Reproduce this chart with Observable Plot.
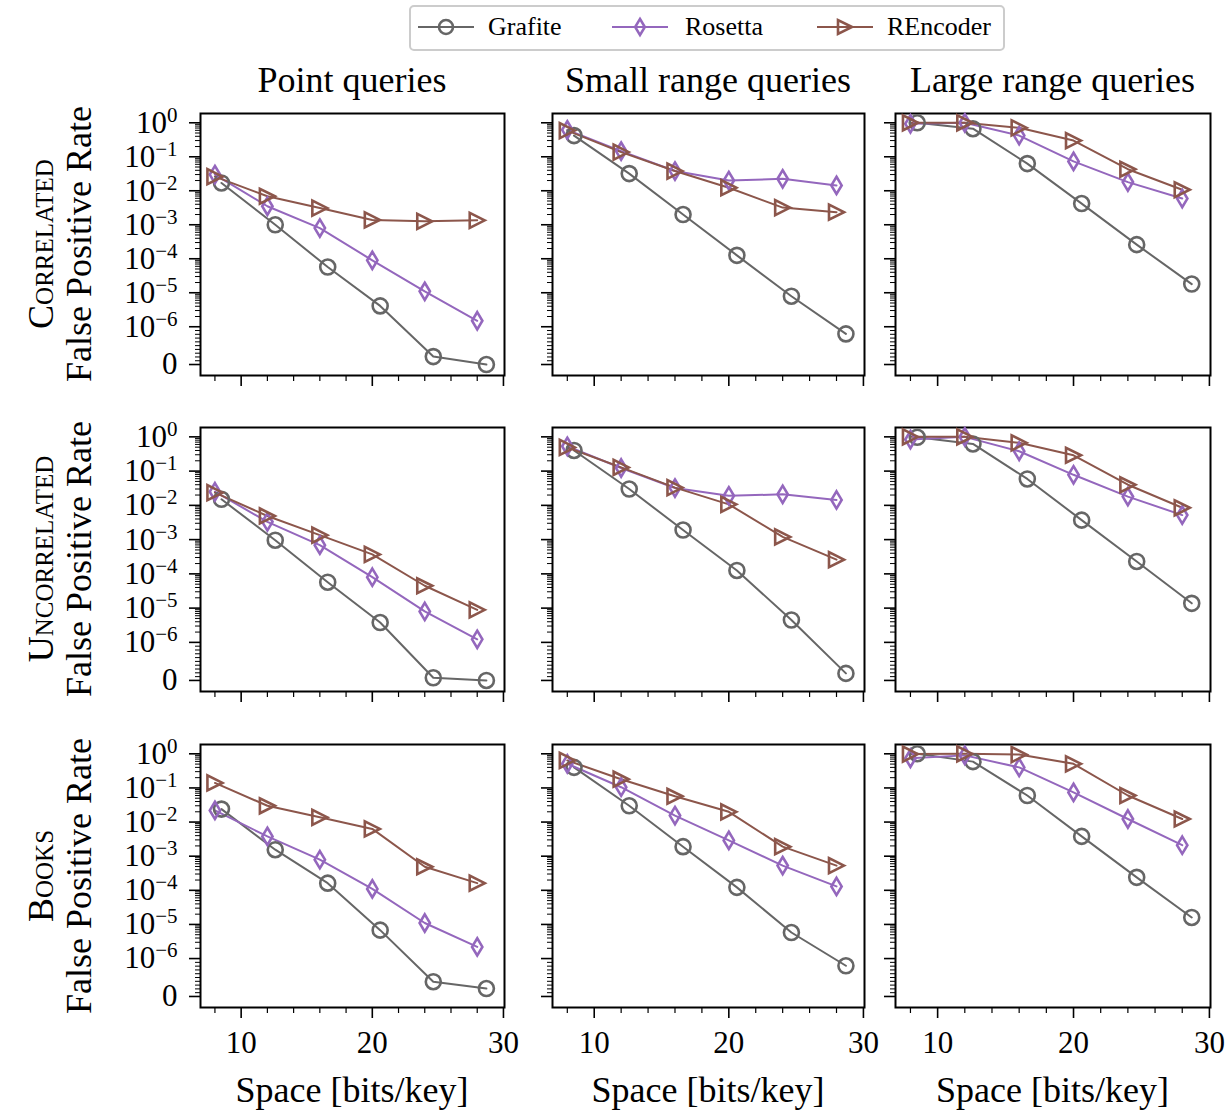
<!DOCTYPE html>
<html><head><meta charset="utf-8">
<script src="https://cdn.jsdelivr.net/npm/d3@7"></script>
<script src="https://cdn.jsdelivr.net/npm/@observablehq/plot@0.6"></script>
<style>
body{margin:0;background:#fff;}
#root{position:relative;width:1226px;height:1112px;background:#fff;font-family:"Liberation Serif",serif;color:#000;overflow:hidden;}
.abs{position:absolute;white-space:nowrap;line-height:1;}
svg{overflow:visible;}
</style></head><body><div id="root"></div>
<script>
// ---------------- data ----------------
const datasets = ["Correlated", "Uncorrelated", "Books"];
const queryTypes = ["Point queries", "Small range queries", "Large range queries"];
const methods = ["Grafite", "Rosetta", "REncoder"];
const methodColors = ["#666666", "#9467bd", "#8c564b"];

// space [bits/key] of each configuration
const grafiteSpace = [8.5, 12.6, 16.6, 20.6, 24.65, 28.7];
const rosettaSpace = [8, 12, 16, 20, 24, 28];
const rencoderSpace = [8, 12, 16, 20, 24, 28];

// false positive rates: [point, small range, large range]
const correlatedGrafite = [
  [1.7e-2, 1.0e-3, 5.7e-5, 4.1e-6, 2.1e-7, 0],
  [0.42, 3.2e-2, 2.0e-3, 1.26e-4, 7.9e-6, 8.1e-7],
  [1.0, 0.67, 6.3e-2, 4.2e-3, 2.6e-4, 1.8e-5]
];
const correlatedRosetta = [
  [3.0e-2, 3.5e-3, 8.0e-4, 9.0e-5, 1.1e-5, 1.5e-6],
  [0.62, 0.147, 3.8e-2, 2.0e-2, 2.25e-2, 1.44e-2],
  [0.93, 1.0, 0.42, 7.3e-2, 1.8e-2, 5.9e-3]
];
const correlatedREncoder = [
  [2.6e-2, 6.9e-3, 3.1e-3, 1.39e-3, 1.26e-3, 1.35e-3],
  [0.59, 0.137, 3.8e-2, 1.23e-2, 3.2e-3, 2.35e-3],
  [1.0, 1.0, 0.71, 0.30, 4.3e-2, 1.07e-2]
];
const uncorrelatedGrafite = [
  [1.5e-2, 9.6e-4, 5.7e-5, 3.8e-6, 7e-8, 0],
  [0.40, 3.0e-2, 1.9e-3, 1.26e-4, 4.5e-6, 1.85e-7],
  [0.97, 0.62, 5.9e-2, 3.7e-3, 2.3e-4, 1.38e-5]
];
const uncorrelatedRosetta = [
  [2.5e-2, 3.3e-3, 6.9e-4, 8.0e-5, 8.0e-6, 1.23e-6],
  [0.53, 0.123, 3.2e-2, 1.9e-2, 2.1e-2, 1.44e-2],
  [0.83, 1.0, 0.38, 7.8e-2, 1.8e-2, 5.2e-3]
];
const uncorrelatedREncoder = [
  [2.35e-2, 4.9e-3, 1.35e-3, 3.7e-4, 4.5e-5, 8.9e-6],
  [0.49, 0.128, 3.3e-2, 1.07e-2, 1.2e-3, 2.6e-4],
  [1.0, 1.0, 0.67, 0.29, 4.0e-2, 8.5e-3]
];
const booksGrafite = [
  [2.4e-2, 1.55e-3, 1.62e-4, 6.8e-6, 3.9e-7, 2.1e-7],
  [0.40, 3.0e-2, 1.9e-3, 1.22e-4, 5.8e-6, 8.1e-7],
  [1.0, 0.59, 6.0e-2, 3.8e-3, 2.4e-4, 1.6e-5]
];
const booksRosetta = [
  [2.2e-2, 3.8e-3, 7.9e-4, 1.1e-4, 1.1e-5, 2.2e-6],
  [0.51, 0.105, 1.55e-2, 2.9e-3, 5.3e-4, 1.3e-4],
  [0.74, 0.9, 0.40, 7.4e-2, 1.23e-2, 2.1e-3]
];
const booksREncoder = [
  [0.14, 3.0e-2, 1.38e-2, 6.3e-3, 4.9e-4, 1.62e-4],
  [0.64, 0.18, 5.7e-2, 2.0e-2, 1.9e-3, 5.3e-4],
  [0.98, 1.0, 0.95, 0.51, 6.0e-2, 1.23e-2]
];

const yTickValues = [0, 1e-6, 1e-5, 1e-4, 1e-3, 1e-2, 1e-1, 1];
const yTickBase = ["0", "10", "10", "10", "10", "10", "10", "10"];
const yTickExponents = ["", "\u22126", "\u22125", "\u22124", "\u22123", "\u22122", "\u22121", "0"];
const xTickValues = [10, 20, 30];
const xMinorTicks = [8, 12, 14, 16, 18, 22, 24, 26, 28];
const xLabel = "Space [bits/key]";
const yLabel = "False Positive Rate";

// ---------------- helpers ----------------
const fprByDataset = [
  [correlatedGrafite, correlatedRosetta, correlatedREncoder],
  [uncorrelatedGrafite, uncorrelatedRosetta, uncorrelatedREncoder],
  [booksGrafite, booksRosetta, booksREncoder]
];
const spaceByMethod = [grafiteSpace, rosettaSpace, rencoderSpace];

// matplotlib-style symlog (linthresh 1e-6, linscale 1)
const LINTHRESH = 1e-6, LINADJ = 1 / (1 - 1 / 10);
function T(v) {
  if (v <= LINTHRESH) return v / LINTHRESH * LINADJ;
  return Math.log10(v / LINTHRESH) + LINADJ;
}
const yMinor = [];
for (let m = 1; m <= 9; m++) yMinor.push(m * 1e-7);
for (let k = -6; k <= -1; k++) for (let m = 2; m <= 9; m++) yMinor.push(m * Math.pow(10, k));
const yIndexMap = new Map(yTickValues.map((v, i) => [T(v), i]));

const circleSym = {draw(ctx, size) { const r = Math.sqrt(size / Math.PI); ctx.moveTo(r, 0); ctx.arc(0, 0, r, 0, 2 * Math.PI); }};
const diamondSym = {draw(ctx, size) { const r = Math.sqrt(size / Math.PI); const h = r * 1.15, w = h * 0.6; ctx.moveTo(0, -h); ctx.lineTo(w, 0); ctx.lineTo(0, h); ctx.lineTo(-w, 0); ctx.closePath(); }};
const triSym = {draw(ctx, size) { const r = Math.sqrt(size / Math.PI); ctx.moveTo(r, 0); ctx.lineTo(-r, -r); ctx.lineTo(-r, r); ctx.closePath(); }};
const methodSymbols = [circleSym, diamondSym, triSym];

// layout (frame rectangles in page pixels)
const colFrames = [[200, 504], [552, 864], [895, 1210]];
const rowFrames = [[113, 375], [427, 691], [744, 1007]];
const FONT = "'Liberation Serif', serif";

const root = document.getElementById("root");
function addText(txt, x, y, size, opts = {}) {
  const d = document.createElement("div");
  d.className = "abs";
  d.textContent = txt;
  d.style.left = x + "px";
  d.style.top = y + "px";
  d.style.fontSize = size + "px";
  d.style.fontFamily = FONT;
  d.style.transform = "translate(-50%,-50%)" + (opts.rotate ? " rotate(-90deg)" : "");
  if (opts.smallCaps) d.style.fontVariant = "small-caps";
  root.appendChild(d);
  return d;
}

function panel(r, c) {
  const [fx0, fx1] = colFrames[c], [fy0, fy1] = rowFrames[r];
  const mL = c === 0 ? 150 : 16, mR = 10, mT = 10, mB = r === 2 ? 60 : 16;
  const rows = [];
  methods.forEach((m, mi) => {
    fprByDataset[r][mi][c].forEach((v, i) => rows.push({method: m, space: spaceByMethod[mi][i], fpr: v}));
  });
  const marks = [
    Plot.axisY({ticks: yMinor.map(T), tickSize: 5, tickFormat: () => "", strokeWidth: 1, label: null}),
    Plot.axisY({ticks: yTickValues.map(T), tickSize: 11, tickPadding: 12, strokeWidth: 1.6,
      tickFormat: c === 0 ? (t => "\u200B" + yIndexMap.get(t)) : (() => ""), label: null}),
    Plot.axisX({ticks: xMinorTicks, tickSize: 6, tickFormat: () => "", strokeWidth: 1.2, label: null}),
    Plot.axisX({ticks: xTickValues, tickSize: 11, tickPadding: 12, strokeWidth: 1.6,
      tickFormat: r === 2 ? (d => String(d)) : (() => ""), label: null}),
    Plot.frame({stroke: "black", strokeWidth: 2})
  ];
  methods.forEach((m, mi) => {
    const sub = rows.filter(d => d.method === m);
    marks.push(Plot.line(sub, {x: "space", y: d => T(d.fpr), stroke: methodColors[mi], strokeWidth: 2}));
  });
  methods.forEach((m, mi) => {
    const sub = rows.filter(d => d.method === m);
    marks.push(Plot.dot(sub, {x: "space", y: d => T(d.fpr), symbol: methodSymbols[mi], r: 7.5,
      stroke: methodColors[mi], fill: "none", strokeWidth: 2.6}));
  });
  const svg = Plot.plot({
    width: mL + (fx1 - fx0) + mR,
    height: mT + (fy1 - fy0) + mB,
    marginLeft: mL, marginRight: mR, marginTop: mT, marginBottom: mB,
    x: {domain: [6.9, 30.08]},
    y: {domain: [-0.323, 7.384]},
    style: {fontFamily: FONT, fontSize: "31px", background: "transparent", color: "black", overflow: "visible"},
    marks
  });
  // typeset y tick labels as 10 with a raised exponent
  if (c === 0) {
    svg.querySelectorAll("text").forEach(t => {
      const s = t.textContent;
      if (!s.startsWith("\u200B")) return;
      const i = +s.slice(1);
      t.textContent = "";
      const base = document.createElementNS("http://www.w3.org/2000/svg", "tspan");
      base.textContent = yTickBase[i];
      t.appendChild(base);
      if (yTickExponents[i]) {
        const sup = document.createElementNS("http://www.w3.org/2000/svg", "tspan");
        sup.textContent = yTickExponents[i];
        sup.setAttribute("font-size", "21px");
        sup.setAttribute("dy", "-11");
        t.appendChild(sup);
      }
    });
  }
  svg.style.position = "absolute";
  svg.style.left = (fx0 - mL) + "px";
  svg.style.top = (fy0 - mT) + "px";
  root.appendChild(svg);
}

for (let r = 0; r < 3; r++) for (let c = 0; c < 3; c++) panel(r, c);

// column titles
queryTypes.forEach((q, c) => addText(q, (colFrames[c][0] + colFrames[c][1]) / 2, 80, 36));
// x labels
colFrames.forEach(f => addText(xLabel, (f[0] + f[1]) / 2, 1090, 36));
// row labels
datasets.forEach((ds, r) => {
  const cy = (rowFrames[r][0] + rowFrames[r][1]) / 2;
  addText(ds, 41, cy, 36, {rotate: true, smallCaps: true});
  addText(yLabel, 79, cy, 36, {rotate: true});
});

// legend
const leg = document.createElement("div");
leg.className = "abs";
Object.assign(leg.style, {left: "409px", top: "5px", width: "592px", height: "42px",
  border: "2px solid #cccccc", borderRadius: "5px", background: "#fff"});
root.appendChild(leg);
const legendItems = [
  {lineX: 418, textX: 488},
  {lineX: 612, textX: 685},
  {lineX: 817, textX: 887}
];
methods.forEach((m, mi) => {
  const it = legendItems[mi];
  const svg = d3.create("svg").attr("width", 58).attr("height", 24)
    .style("position", "absolute").style("left", it.lineX + "px").style("top", "15px").style("overflow", "visible");
  svg.append("line").attr("x1", 0).attr("x2", 56).attr("y1", 12).attr("y2", 12)
    .attr("stroke", methodColors[mi]).attr("stroke-width", 2);
  const path = d3.path();
  methodSymbols[mi].draw(path, Math.PI * 49);
  svg.append("path").attr("d", path.toString()).attr("transform", "translate(28,12)")
    .attr("fill", "none").attr("stroke", methodColors[mi]).attr("stroke-width", 2.6);
  root.appendChild(svg.node());
  const t = document.createElement("div");
  t.className = "abs";
  t.textContent = m;
  Object.assign(t.style, {left: it.textX + "px", top: "27px", fontSize: "26px", fontFamily: FONT, transform: "translateY(-50%)"});
  root.appendChild(t);
});
</script></body></html>
